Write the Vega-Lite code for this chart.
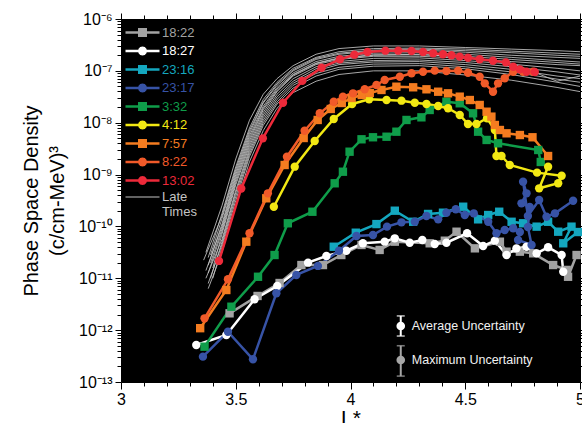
{
  "$schema": "https://vega.github.io/schema/vega-lite/v6.json",
  "width": 459,
  "height": 363,
  "autosize": {"type": "none"},
  "padding": {"left": 121, "top": 19, "right": 2, "bottom": 41},
  "background": "white",
  "config": {
    "view": {"fill": "black", "stroke": null},
    "font": "Liberation Sans",
    "axis": {
      "grid": false,
      "domainColor": "black",
      "tickColor": "black",
      "labelColor": "black",
      "titleColor": "black",
      "labelFont": "Liberation Sans",
      "titleFont": "Liberation Sans",
      "titleFontWeight": "normal"
    }
  },
  "datasets": {
    "series": [
      {"s": "18:22", "x": 3.473, "y": 2.11e-12},
      {"s": "18:22", "x": 3.595, "y": 4.56e-12},
      {"s": "18:22", "x": 3.691, "y": 8.11e-12},
      {"s": "18:22", "x": 3.786, "y": 1.8e-11},
      {"s": "18:22", "x": 3.88, "y": 1.8e-11},
      {"s": "18:22", "x": 3.96, "y": 2.81e-11},
      {"s": "18:22", "x": 4.048, "y": 4.39e-11},
      {"s": "18:22", "x": 4.127, "y": 3.52e-11},
      {"s": "18:22", "x": 4.193, "y": 5.08e-11},
      {"s": "18:22", "x": 4.345, "y": 4.73e-11},
      {"s": "18:22", "x": 4.411, "y": 5.31e-11},
      {"s": "18:22", "x": 4.462, "y": 7.91e-11},
      {"s": "18:22", "x": 4.542, "y": 3.78e-11},
      {"s": "18:22", "x": 4.651, "y": 5.08e-11},
      {"s": "18:22", "x": 4.68, "y": 3.26e-11},
      {"s": "18:22", "x": 4.738, "y": 3.26e-11},
      {"s": "18:22", "x": 4.796, "y": 3.03e-11},
      {"s": "18:22", "x": 4.883, "y": 1.8e-11},
      {"s": "18:22", "x": 4.942, "y": 1.45e-11},
      {"s": "18:22", "x": 4.948, "y": 1.07e-11},
      {"s": "18:22", "x": 4.985, "y": 2.81e-11},

      {"s": "18:27", "x": 3.328, "y": 5.18e-13},
      {"s": "18:27", "x": 3.459, "y": 8.07e-13},
      {"s": "18:27", "x": 3.582, "y": 3.94e-12},
      {"s": "18:27", "x": 3.681, "y": 7.1e-12},
      {"s": "18:27", "x": 3.815, "y": 2.0e-11},
      {"s": "18:27", "x": 3.895, "y": 2.69e-11},
      {"s": "18:27", "x": 3.982, "y": 3.4e-11},
      {"s": "18:27", "x": 4.054, "y": 4.73e-11},
      {"s": "18:27", "x": 4.149, "y": 5.08e-11},
      {"s": "18:27", "x": 4.193, "y": 5.9e-11},
      {"s": "18:27", "x": 4.258, "y": 4.85e-11},
      {"s": "18:27", "x": 4.313, "y": 5.47e-11},
      {"s": "18:27", "x": 4.367, "y": 4.58e-11},
      {"s": "18:27", "x": 4.418, "y": 4.85e-11},
      {"s": "18:27", "x": 4.508, "y": 7.38e-11},
      {"s": "18:27", "x": 4.578, "y": 4.2e-11},
      {"s": "18:27", "x": 4.629, "y": 5.31e-11},
      {"s": "18:27", "x": 4.68, "y": 2.81e-11},
      {"s": "18:27", "x": 4.723, "y": 3.78e-11},
      {"s": "18:27", "x": 4.767, "y": 4.06e-11},
      {"s": "18:27", "x": 4.811, "y": 3.03e-11},
      {"s": "18:27", "x": 4.861, "y": 3.96e-11},
      {"s": "18:27", "x": 4.92, "y": 2.81e-11},
      {"s": "18:27", "x": 4.927, "y": 1.34e-11},

      {"s": "23:16", "x": 3.927, "y": 4.06e-11},
      {"s": "23:16", "x": 4.023, "y": 7.57e-11},
      {"s": "23:16", "x": 4.113, "y": 1.11e-10},
      {"s": "23:16", "x": 4.193, "y": 2.01e-10},
      {"s": "23:16", "x": 4.273, "y": 1.23e-10},
      {"s": "23:16", "x": 4.338, "y": 1.74e-10},
      {"s": "23:16", "x": 4.403, "y": 1.84e-10},
      {"s": "23:16", "x": 4.491, "y": 2.4e-10},
      {"s": "23:16", "x": 4.556, "y": 1.37e-10},
      {"s": "23:16", "x": 4.6, "y": 1.66e-10},
      {"s": "23:16", "x": 4.648, "y": 1.92e-10},
      {"s": "23:16", "x": 4.702, "y": 1.23e-10},
      {"s": "23:16", "x": 4.752, "y": 1.15e-10},
      {"s": "23:16", "x": 4.811, "y": 9.9e-11},
      {"s": "23:16", "x": 4.861, "y": 1.23e-10},
      {"s": "23:16", "x": 4.905, "y": 7.91e-11},
      {"s": "23:16", "x": 4.963, "y": 9.9e-11},
      {"s": "23:16", "x": 4.927, "y": 4.73e-11},
      {"s": "23:16", "x": 4.991, "y": 7.8e-11},

      {"s": "23:17", "x": 3.357, "y": 3.08e-13},
      {"s": "23:17", "x": 3.466, "y": 9.33e-13},
      {"s": "23:17", "x": 3.575, "y": 2.74e-13},
      {"s": "23:17", "x": 3.677, "y": 5.14e-12},
      {"s": "23:17", "x": 3.764, "y": 1.16e-11},
      {"s": "23:17", "x": 3.858, "y": 1.73e-11},
      {"s": "23:17", "x": 3.95, "y": 3.4e-11},
      {"s": "23:17", "x": 4.026, "y": 6.55e-11},
      {"s": "23:17", "x": 4.098, "y": 6.84e-11},
      {"s": "23:17", "x": 4.159, "y": 9.9e-11},
      {"s": "23:17", "x": 4.222, "y": 1.2e-10},
      {"s": "23:17", "x": 4.28, "y": 1.23e-10},
      {"s": "23:17", "x": 4.331, "y": 1.59e-10},
      {"s": "23:17", "x": 4.382, "y": 1.37e-10},
      {"s": "23:17", "x": 4.418, "y": 1.84e-10},
      {"s": "23:17", "x": 4.459, "y": 2.14e-10},
      {"s": "23:17", "x": 4.498, "y": 1.66e-10},
      {"s": "23:17", "x": 4.537, "y": 1.79e-10},
      {"s": "23:17", "x": 4.6, "y": 1.23e-10},
      {"s": "23:17", "x": 4.636, "y": 7.38e-11},
      {"s": "23:17", "x": 4.672, "y": 8.53e-11},
      {"s": "23:17", "x": 4.709, "y": 9.2e-11},
      {"s": "23:17", "x": 4.738, "y": 7.8e-11},
      {"s": "23:17", "x": 4.73, "y": 5.47e-11},
      {"s": "23:17", "x": 4.789, "y": 4.39e-11},
      {"s": "23:17", "x": 4.773, "y": 9.75e-11},
      {"s": "23:17", "x": 4.781, "y": 2.37e-10},
      {"s": "23:17", "x": 4.745, "y": 2.79e-10},
      {"s": "23:17", "x": 4.767, "y": 4.35e-10},
      {"s": "23:17", "x": 4.752, "y": 7.29e-10},
      {"s": "23:17", "x": 4.773, "y": 1.59e-10},
      {"s": "23:17", "x": 4.822, "y": 3.24e-10},
      {"s": "23:17", "x": 4.854, "y": 1.54e-10},
      {"s": "23:17", "x": 4.891, "y": 1.79e-10},
      {"s": "23:17", "x": 4.97, "y": 3.13e-10},

      {"s": "3:32", "x": 3.364, "y": 4.8e-13},
      {"s": "3:32", "x": 3.481, "y": 2.83e-12},
      {"s": "3:32", "x": 3.597, "y": 1.07e-11},
      {"s": "3:32", "x": 3.669, "y": 2.81e-11},
      {"s": "3:32", "x": 3.727, "y": 1.15e-10},
      {"s": "3:32", "x": 3.834, "y": 1.92e-10},
      {"s": "3:32", "x": 3.931, "y": 6.79e-10},
      {"s": "3:32", "x": 3.967, "y": 1.135e-9},
      {"s": "3:32", "x": 3.996, "y": 2.76e-9},
      {"s": "3:32", "x": 4.048, "y": 4.79e-9},
      {"s": "3:32", "x": 4.098, "y": 5.24e-9},
      {"s": "3:32", "x": 4.157, "y": 5.37e-9},
      {"s": "3:32", "x": 4.2, "y": 6.71e-9},
      {"s": "3:32", "x": 4.244, "y": 1.13e-8},
      {"s": "3:32", "x": 4.309, "y": 1.27e-8},
      {"s": "3:32", "x": 4.345, "y": 1.76e-8},
      {"s": "3:32", "x": 4.418, "y": 2.54e-8},
      {"s": "3:32", "x": 4.476, "y": 2.37e-8},
      {"s": "3:32", "x": 4.534, "y": 1.52e-8},
      {"s": "3:32", "x": 4.556, "y": 6.71e-9},
      {"s": "3:32", "x": 4.593, "y": 4.65e-9},
      {"s": "3:32", "x": 4.643, "y": 4.01e-9},
      {"s": "3:32", "x": 4.818, "y": 2.98e-9},
      {"s": "3:32", "x": 4.829, "y": 1.75e-9},

      {"s": "4:12", "x": 3.666, "y": 2.4e-10},
      {"s": "4:12", "x": 3.757, "y": 1.42e-9},
      {"s": "4:12", "x": 3.844, "y": 4.44e-9},
      {"s": "4:12", "x": 3.927, "y": 1.18e-8},
      {"s": "4:12", "x": 4.007, "y": 2.3e-8},
      {"s": "4:12", "x": 4.081, "y": 2.83e-8},
      {"s": "4:12", "x": 4.157, "y": 2.74e-8},
      {"s": "4:12", "x": 4.222, "y": 2.66e-8},
      {"s": "4:12", "x": 4.28, "y": 2.43e-8},
      {"s": "4:12", "x": 4.331, "y": 2.3e-8},
      {"s": "4:12", "x": 4.382, "y": 2.1e-8},
      {"s": "4:12", "x": 4.425, "y": 1.9e-8},
      {"s": "4:12", "x": 4.476, "y": 1.41e-8},
      {"s": "4:12", "x": 4.512, "y": 9.45e-9},
      {"s": "4:12", "x": 4.549, "y": 9.45e-9},
      {"s": "4:12", "x": 4.595, "y": 1.22e-8},
      {"s": "4:12", "x": 4.629, "y": 7.24e-9},
      {"s": "4:12", "x": 4.636, "y": 2.28e-9},
      {"s": "4:12", "x": 4.658, "y": 2.28e-9},
      {"s": "4:12", "x": 4.694, "y": 1.53e-9},
      {"s": "4:12", "x": 4.813, "y": 1.09e-9},
      {"s": "4:12", "x": 4.92, "y": 9.5e-10},
      {"s": "4:12", "x": 4.905, "y": 6.79e-10},
      {"s": "4:12", "x": 4.822, "y": 5.43e-10},
      {"s": "4:12", "x": 4.861, "y": 1.42e-9},

      {"s": "7:57", "x": 3.345, "y": 1.09e-12},
      {"s": "7:57", "x": 3.459, "y": 5.94e-12},
      {"s": "7:57", "x": 3.546, "y": 5.08e-11},
      {"s": "7:57", "x": 3.633, "y": 3.49e-10},
      {"s": "7:57", "x": 3.713, "y": 1.53e-9},
      {"s": "7:57", "x": 3.796, "y": 5.07e-9},
      {"s": "7:57", "x": 3.857, "y": 1.13e-8},
      {"s": "7:57", "x": 3.914, "y": 1.84e-8},
      {"s": "7:57", "x": 3.962, "y": 2.4e-8},
      {"s": "7:57", "x": 4.005, "y": 3.0e-8},
      {"s": "7:57", "x": 4.049, "y": 3.42e-8},
      {"s": "7:57", "x": 4.084, "y": 3.74e-8},
      {"s": "7:57", "x": 4.135, "y": 4.28e-8},
      {"s": "7:57", "x": 4.2, "y": 4.95e-8},
      {"s": "7:57", "x": 4.273, "y": 4.82e-8},
      {"s": "7:57", "x": 4.331, "y": 4.41e-8},
      {"s": "7:57", "x": 4.382, "y": 3.96e-8},
      {"s": "7:57", "x": 4.425, "y": 3.69e-8},
      {"s": "7:57", "x": 4.476, "y": 3.18e-8},
      {"s": "7:57", "x": 4.52, "y": 2.74e-8},
      {"s": "7:57", "x": 4.563, "y": 2.2e-8},
      {"s": "7:57", "x": 4.593, "y": 1.63e-8},
      {"s": "7:57", "x": 4.614, "y": 1.31e-8},
      {"s": "7:57", "x": 4.629, "y": 9.04e-9},
      {"s": "7:57", "x": 4.651, "y": 7.24e-9},
      {"s": "7:57", "x": 4.68, "y": 6.25e-9},
      {"s": "7:57", "x": 4.738, "y": 5.79e-9},
      {"s": "7:57", "x": 4.793, "y": 5.24e-9},
      {"s": "7:57", "x": 4.861, "y": 2.28e-9},

      {"s": "8:22", "x": 3.364, "y": 1.69e-12},
      {"s": "8:22", "x": 3.466, "y": 9.57e-12},
      {"s": "8:22", "x": 3.56, "y": 7.38e-11},
      {"s": "8:22", "x": 3.64, "y": 4.35e-10},
      {"s": "8:22", "x": 3.723, "y": 2.21e-9},
      {"s": "8:22", "x": 3.8, "y": 7.01e-9},
      {"s": "8:22", "x": 3.866, "y": 1.52e-8},
      {"s": "8:22", "x": 3.927, "y": 2.54e-8},
      {"s": "8:22", "x": 3.967, "y": 3.18e-8},
      {"s": "8:22", "x": 4.011, "y": 3.69e-8},
      {"s": "8:22", "x": 4.062, "y": 4.41e-8},
      {"s": "8:22", "x": 4.113, "y": 5.33e-8},
      {"s": "8:22", "x": 4.149, "y": 6.67e-8},
      {"s": "8:22", "x": 4.215, "y": 7.71e-8},
      {"s": "8:22", "x": 4.266, "y": 8.97e-8},
      {"s": "8:22", "x": 4.316, "y": 9.63e-8},
      {"s": "8:22", "x": 4.367, "y": 1.01e-7},
      {"s": "8:22", "x": 4.418, "y": 9.93e-8},
      {"s": "8:22", "x": 4.469, "y": 1.01e-7},
      {"s": "8:22", "x": 4.512, "y": 9.21e-8},
      {"s": "8:22", "x": 4.563, "y": 7.71e-8},
      {"s": "8:22", "x": 4.585, "y": 5.75e-8},
      {"s": "8:22", "x": 4.621, "y": 3.96e-8},
      {"s": "8:22", "x": 4.643, "y": 5.75e-8},
      {"s": "8:22", "x": 4.672, "y": 7.19e-8},
      {"s": "8:22", "x": 4.709, "y": 9.63e-8},
      {"s": "8:22", "x": 4.752, "y": 9.63e-8},
      {"s": "8:22", "x": 4.796, "y": 9.63e-8},

      {"s": "13:02", "x": 3.427, "y": 2.16e-11},
      {"s": "13:02", "x": 3.524, "y": 5.4e-10},
      {"s": "13:02", "x": 3.618, "y": 5.0e-9},
      {"s": "13:02", "x": 3.706, "y": 2.43e-8},
      {"s": "13:02", "x": 3.79, "y": 6.4e-8},
      {"s": "13:02", "x": 3.874, "y": 1.15e-7},
      {"s": "13:02", "x": 3.954, "y": 1.67e-7},
      {"s": "13:02", "x": 4.017, "y": 2.05e-7},
      {"s": "13:02", "x": 4.074, "y": 2.31e-7},
      {"s": "13:02", "x": 4.152, "y": 2.45e-7},
      {"s": "13:02", "x": 4.208, "y": 2.45e-7},
      {"s": "13:02", "x": 4.266, "y": 2.42e-7},
      {"s": "13:02", "x": 4.316, "y": 2.31e-7},
      {"s": "13:02", "x": 4.36, "y": 2.18e-7},
      {"s": "13:02", "x": 4.403, "y": 2.09e-7},
      {"s": "13:02", "x": 4.44, "y": 2.0e-7},
      {"s": "13:02", "x": 4.476, "y": 1.88e-7},
      {"s": "13:02", "x": 4.512, "y": 1.79e-7},
      {"s": "13:02", "x": 4.563, "y": 1.67e-7},
      {"s": "13:02", "x": 4.621, "y": 1.57e-7},
      {"s": "13:02", "x": 4.677, "y": 1.46e-7},
      {"s": "13:02", "x": 4.709, "y": 1.2e-7},
      {"s": "13:02", "x": 4.738, "y": 1.07e-7},
      {"s": "13:02", "x": 4.767, "y": 9.6e-8},
      {"s": "13:02", "x": 4.803, "y": 9.5e-8}
    ],
    "late": [
      {"s": "Late Times", "c": "L1", "x": 3.37, "y": 3.16e-11},
      {"s": "Late Times", "c": "L1", "x": 3.44, "y": 2.51e-10},
      {"s": "Late Times", "c": "L1", "x": 3.5, "y": 2.0e-9},
      {"s": "Late Times", "c": "L1", "x": 3.56, "y": 1.12e-8},
      {"s": "Late Times", "c": "L1", "x": 3.62, "y": 3.55e-8},
      {"s": "Late Times", "c": "L1", "x": 3.68, "y": 7.08e-8},
      {"s": "Late Times", "c": "L1", "x": 3.75, "y": 1.26e-7},
      {"s": "Late Times", "c": "L1", "x": 3.85, "y": 2.09e-7},
      {"s": "Late Times", "c": "L1", "x": 3.95, "y": 2.69e-7},
      {"s": "Late Times", "c": "L1", "x": 4.1, "y": 3.02e-7},
      {"s": "Late Times", "c": "L1", "x": 4.3, "y": 3.02e-7},
      {"s": "Late Times", "c": "L1", "x": 4.5, "y": 2.82e-7},
      {"s": "Late Times", "c": "L1", "x": 4.7, "y": 2.63e-7},
      {"s": "Late Times", "c": "L1", "x": 4.9, "y": 2.45e-7},
      {"s": "Late Times", "c": "L1", "x": 5.0, "y": 2.34e-7},

      {"s": "Late Times", "c": "L2", "x": 3.38, "y": 2.51e-11},
      {"s": "Late Times", "c": "L2", "x": 3.44, "y": 1.78e-10},
      {"s": "Late Times", "c": "L2", "x": 3.5, "y": 1.41e-9},
      {"s": "Late Times", "c": "L2", "x": 3.56, "y": 7.94e-9},
      {"s": "Late Times", "c": "L2", "x": 3.62, "y": 2.82e-8},
      {"s": "Late Times", "c": "L2", "x": 3.68, "y": 6.03e-8},
      {"s": "Late Times", "c": "L2", "x": 3.75, "y": 1.12e-7},
      {"s": "Late Times", "c": "L2", "x": 3.85, "y": 1.82e-7},
      {"s": "Late Times", "c": "L2", "x": 3.95, "y": 2.34e-7},
      {"s": "Late Times", "c": "L2", "x": 4.1, "y": 2.69e-7},
      {"s": "Late Times", "c": "L2", "x": 4.3, "y": 2.75e-7},
      {"s": "Late Times", "c": "L2", "x": 4.5, "y": 2.63e-7},
      {"s": "Late Times", "c": "L2", "x": 4.7, "y": 2.4e-7},
      {"s": "Late Times", "c": "L2", "x": 4.9, "y": 2.19e-7},
      {"s": "Late Times", "c": "L2", "x": 5.0, "y": 2.09e-7},

      {"s": "Late Times", "c": "L3", "x": 3.39, "y": 2.82e-11},
      {"s": "Late Times", "c": "L3", "x": 3.44, "y": 1.41e-10},
      {"s": "Late Times", "c": "L3", "x": 3.5, "y": 1.12e-9},
      {"s": "Late Times", "c": "L3", "x": 3.56, "y": 6.31e-9},
      {"s": "Late Times", "c": "L3", "x": 3.62, "y": 2.4e-8},
      {"s": "Late Times", "c": "L3", "x": 3.68, "y": 5.25e-8},
      {"s": "Late Times", "c": "L3", "x": 3.75, "y": 1.0e-7},
      {"s": "Late Times", "c": "L3", "x": 3.85, "y": 1.66e-7},
      {"s": "Late Times", "c": "L3", "x": 3.95, "y": 2.09e-7},
      {"s": "Late Times", "c": "L3", "x": 4.1, "y": 2.4e-7},
      {"s": "Late Times", "c": "L3", "x": 4.3, "y": 2.51e-7},
      {"s": "Late Times", "c": "L3", "x": 4.5, "y": 2.29e-7},
      {"s": "Late Times", "c": "L3", "x": 4.7, "y": 2.0e-7},
      {"s": "Late Times", "c": "L3", "x": 4.9, "y": 1.82e-7},
      {"s": "Late Times", "c": "L3", "x": 5.0, "y": 1.74e-7},

      {"s": "Late Times", "c": "L4", "x": 3.38, "y": 1.78e-11},
      {"s": "Late Times", "c": "L4", "x": 3.44, "y": 1.12e-10},
      {"s": "Late Times", "c": "L4", "x": 3.5, "y": 1.0e-9},
      {"s": "Late Times", "c": "L4", "x": 3.56, "y": 5.62e-9},
      {"s": "Late Times", "c": "L4", "x": 3.62, "y": 2.09e-8},
      {"s": "Late Times", "c": "L4", "x": 3.68, "y": 4.79e-8},
      {"s": "Late Times", "c": "L4", "x": 3.75, "y": 9.12e-8},
      {"s": "Late Times", "c": "L4", "x": 3.85, "y": 1.51e-7},
      {"s": "Late Times", "c": "L4", "x": 3.95, "y": 1.91e-7},
      {"s": "Late Times", "c": "L4", "x": 4.1, "y": 2.19e-7},
      {"s": "Late Times", "c": "L4", "x": 4.3, "y": 2.24e-7},
      {"s": "Late Times", "c": "L4", "x": 4.5, "y": 2.09e-7},
      {"s": "Late Times", "c": "L4", "x": 4.7, "y": 1.82e-7},
      {"s": "Late Times", "c": "L4", "x": 4.9, "y": 1.58e-7},
      {"s": "Late Times", "c": "L4", "x": 5.0, "y": 1.48e-7},

      {"s": "Late Times", "c": "L5", "x": 3.37, "y": 1.41e-11},
      {"s": "Late Times", "c": "L5", "x": 3.44, "y": 1.0e-10},
      {"s": "Late Times", "c": "L5", "x": 3.5, "y": 8.91e-10},
      {"s": "Late Times", "c": "L5", "x": 3.56, "y": 5.01e-9},
      {"s": "Late Times", "c": "L5", "x": 3.62, "y": 1.91e-8},
      {"s": "Late Times", "c": "L5", "x": 3.68, "y": 4.47e-8},
      {"s": "Late Times", "c": "L5", "x": 3.75, "y": 8.51e-8},
      {"s": "Late Times", "c": "L5", "x": 3.85, "y": 1.41e-7},
      {"s": "Late Times", "c": "L5", "x": 3.95, "y": 1.78e-7},
      {"s": "Late Times", "c": "L5", "x": 4.1, "y": 2.04e-7},
      {"s": "Late Times", "c": "L5", "x": 4.3, "y": 2.04e-7},
      {"s": "Late Times", "c": "L5", "x": 4.5, "y": 1.91e-7},
      {"s": "Late Times", "c": "L5", "x": 4.7, "y": 1.66e-7},
      {"s": "Late Times", "c": "L5", "x": 4.9, "y": 1.45e-7},
      {"s": "Late Times", "c": "L5", "x": 5.0, "y": 1.35e-7},

      {"s": "Late Times", "c": "L6", "x": 3.38, "y": 1.26e-11},
      {"s": "Late Times", "c": "L6", "x": 3.44, "y": 7.94e-11},
      {"s": "Late Times", "c": "L6", "x": 3.5, "y": 7.08e-10},
      {"s": "Late Times", "c": "L6", "x": 3.56, "y": 3.98e-9},
      {"s": "Late Times", "c": "L6", "x": 3.62, "y": 1.58e-8},
      {"s": "Late Times", "c": "L6", "x": 3.68, "y": 3.98e-8},
      {"s": "Late Times", "c": "L6", "x": 3.75, "y": 7.94e-8},
      {"s": "Late Times", "c": "L6", "x": 3.85, "y": 1.32e-7},
      {"s": "Late Times", "c": "L6", "x": 3.95, "y": 1.66e-7},
      {"s": "Late Times", "c": "L6", "x": 4.1, "y": 1.91e-7},
      {"s": "Late Times", "c": "L6", "x": 4.3, "y": 1.91e-7},
      {"s": "Late Times", "c": "L6", "x": 4.5, "y": 1.74e-7},
      {"s": "Late Times", "c": "L6", "x": 4.7, "y": 1.51e-7},
      {"s": "Late Times", "c": "L6", "x": 4.9, "y": 1.32e-7},
      {"s": "Late Times", "c": "L6", "x": 5.0, "y": 1.26e-7},

      {"s": "Late Times", "c": "L7", "x": 3.4, "y": 1.58e-11},
      {"s": "Late Times", "c": "L7", "x": 3.44, "y": 7.08e-11},
      {"s": "Late Times", "c": "L7", "x": 3.5, "y": 6.31e-10},
      {"s": "Late Times", "c": "L7", "x": 3.56, "y": 3.55e-9},
      {"s": "Late Times", "c": "L7", "x": 3.62, "y": 1.41e-8},
      {"s": "Late Times", "c": "L7", "x": 3.68, "y": 3.55e-8},
      {"s": "Late Times", "c": "L7", "x": 3.75, "y": 7.08e-8},
      {"s": "Late Times", "c": "L7", "x": 3.85, "y": 1.2e-7},
      {"s": "Late Times", "c": "L7", "x": 3.95, "y": 1.51e-7},
      {"s": "Late Times", "c": "L7", "x": 4.1, "y": 1.74e-7},
      {"s": "Late Times", "c": "L7", "x": 4.3, "y": 1.78e-7},
      {"s": "Late Times", "c": "L7", "x": 4.5, "y": 1.58e-7},
      {"s": "Late Times", "c": "L7", "x": 4.7, "y": 1.35e-7},
      {"s": "Late Times", "c": "L7", "x": 4.9, "y": 1.12e-7},
      {"s": "Late Times", "c": "L7", "x": 5.0, "y": 1.0e-7},

      {"s": "Late Times", "c": "L8", "x": 3.37, "y": 1.0e-11},
      {"s": "Late Times", "c": "L8", "x": 3.44, "y": 5.62e-11},
      {"s": "Late Times", "c": "L8", "x": 3.5, "y": 5.01e-10},
      {"s": "Late Times", "c": "L8", "x": 3.56, "y": 3.16e-9},
      {"s": "Late Times", "c": "L8", "x": 3.62, "y": 1.26e-8},
      {"s": "Late Times", "c": "L8", "x": 3.68, "y": 3.16e-8},
      {"s": "Late Times", "c": "L8", "x": 3.75, "y": 6.31e-8},
      {"s": "Late Times", "c": "L8", "x": 3.85, "y": 1.1e-7},
      {"s": "Late Times", "c": "L8", "x": 3.95, "y": 1.41e-7},
      {"s": "Late Times", "c": "L8", "x": 4.1, "y": 1.58e-7},
      {"s": "Late Times", "c": "L8", "x": 4.3, "y": 1.62e-7},
      {"s": "Late Times", "c": "L8", "x": 4.5, "y": 1.45e-7},
      {"s": "Late Times", "c": "L8", "x": 4.7, "y": 1.2e-7},
      {"s": "Late Times", "c": "L8", "x": 4.9, "y": 9.55e-8},
      {"s": "Late Times", "c": "L8", "x": 5.0, "y": 8.32e-8},

      {"s": "Late Times", "c": "L9", "x": 3.39, "y": 1.0e-11},
      {"s": "Late Times", "c": "L9", "x": 3.44, "y": 5.01e-11},
      {"s": "Late Times", "c": "L9", "x": 3.5, "y": 4.47e-10},
      {"s": "Late Times", "c": "L9", "x": 3.56, "y": 2.82e-9},
      {"s": "Late Times", "c": "L9", "x": 3.62, "y": 1.12e-8},
      {"s": "Late Times", "c": "L9", "x": 3.68, "y": 2.82e-8},
      {"s": "Late Times", "c": "L9", "x": 3.75, "y": 5.75e-8},
      {"s": "Late Times", "c": "L9", "x": 3.85, "y": 1.0e-7},
      {"s": "Late Times", "c": "L9", "x": 3.95, "y": 1.32e-7},
      {"s": "Late Times", "c": "L9", "x": 4.1, "y": 1.48e-7},
      {"s": "Late Times", "c": "L9", "x": 4.3, "y": 1.51e-7},
      {"s": "Late Times", "c": "L9", "x": 4.5, "y": 1.32e-7},
      {"s": "Late Times", "c": "L9", "x": 4.7, "y": 1.07e-7},
      {"s": "Late Times", "c": "L9", "x": 4.9, "y": 7.94e-8},
      {"s": "Late Times", "c": "L9", "x": 5.0, "y": 7.08e-8},

      {"s": "Late Times", "c": "L10", "x": 3.38, "y": 7.94e-12},
      {"s": "Late Times", "c": "L10", "x": 3.44, "y": 4.47e-11},
      {"s": "Late Times", "c": "L10", "x": 3.5, "y": 3.8e-10},
      {"s": "Late Times", "c": "L10", "x": 3.56, "y": 2.51e-9},
      {"s": "Late Times", "c": "L10", "x": 3.62, "y": 1.0e-8},
      {"s": "Late Times", "c": "L10", "x": 3.68, "y": 2.51e-8},
      {"s": "Late Times", "c": "L10", "x": 3.75, "y": 5.25e-8},
      {"s": "Late Times", "c": "L10", "x": 3.85, "y": 8.91e-8},
      {"s": "Late Times", "c": "L10", "x": 3.95, "y": 1.17e-7},
      {"s": "Late Times", "c": "L10", "x": 4.1, "y": 1.35e-7},
      {"s": "Late Times", "c": "L10", "x": 4.3, "y": 1.38e-7},
      {"s": "Late Times", "c": "L10", "x": 4.5, "y": 1.2e-7},
      {"s": "Late Times", "c": "L10", "x": 4.7, "y": 9.55e-8},
      {"s": "Late Times", "c": "L10", "x": 4.9, "y": 6.92e-8},
      {"s": "Late Times", "c": "L10", "x": 5.0, "y": 6.03e-8},

      {"s": "Late Times", "c": "L11", "x": 3.4, "y": 1.0e-11},
      {"s": "Late Times", "c": "L11", "x": 3.44, "y": 3.98e-11},
      {"s": "Late Times", "c": "L11", "x": 3.5, "y": 3.16e-10},
      {"s": "Late Times", "c": "L11", "x": 3.56, "y": 2.24e-9},
      {"s": "Late Times", "c": "L11", "x": 3.62, "y": 8.91e-9},
      {"s": "Late Times", "c": "L11", "x": 3.68, "y": 2.29e-8},
      {"s": "Late Times", "c": "L11", "x": 3.75, "y": 4.68e-8},
      {"s": "Late Times", "c": "L11", "x": 3.85, "y": 7.94e-8},
      {"s": "Late Times", "c": "L11", "x": 3.95, "y": 1.07e-7},
      {"s": "Late Times", "c": "L11", "x": 4.1, "y": 1.23e-7},
      {"s": "Late Times", "c": "L11", "x": 4.3, "y": 1.26e-7},
      {"s": "Late Times", "c": "L11", "x": 4.5, "y": 1.1e-7},
      {"s": "Late Times", "c": "L11", "x": 4.7, "y": 8.51e-8},
      {"s": "Late Times", "c": "L11", "x": 4.9, "y": 6.03e-8},
      {"s": "Late Times", "c": "L11", "x": 5.0, "y": 5.01e-8},

      {"s": "Late Times", "c": "L12", "x": 3.38, "y": 6.31e-12},
      {"s": "Late Times", "c": "L12", "x": 3.44, "y": 3.16e-11},
      {"s": "Late Times", "c": "L12", "x": 3.5, "y": 2.51e-10},
      {"s": "Late Times", "c": "L12", "x": 3.56, "y": 1.78e-9},
      {"s": "Late Times", "c": "L12", "x": 3.62, "y": 7.08e-9},
      {"s": "Late Times", "c": "L12", "x": 3.68, "y": 1.91e-8},
      {"s": "Late Times", "c": "L12", "x": 3.75, "y": 3.8e-8},
      {"s": "Late Times", "c": "L12", "x": 3.85, "y": 6.31e-8},
      {"s": "Late Times", "c": "L12", "x": 3.95, "y": 8.51e-8},
      {"s": "Late Times", "c": "L12", "x": 4.1, "y": 1.0e-7},
      {"s": "Late Times", "c": "L12", "x": 4.3, "y": 1.0e-7},
      {"s": "Late Times", "c": "L12", "x": 4.5, "y": 8.32e-8},
      {"s": "Late Times", "c": "L12", "x": 4.7, "y": 6.61e-8},
      {"s": "Late Times", "c": "L12", "x": 4.9, "y": 4.79e-8},
      {"s": "Late Times", "c": "L12", "x": 5.0, "y": 3.98e-8},

      {"s": "Late Times", "c": "L13", "x": 3.36, "y": 2.24e-11},
      {"s": "Late Times", "c": "L13", "x": 3.44, "y": 1.58e-10},
      {"s": "Late Times", "c": "L13", "x": 3.5, "y": 1.26e-9},
      {"s": "Late Times", "c": "L13", "x": 3.56, "y": 7.08e-9},
      {"s": "Late Times", "c": "L13", "x": 3.62, "y": 2.51e-8},
      {"s": "Late Times", "c": "L13", "x": 3.68, "y": 5.62e-8},
      {"s": "Late Times", "c": "L13", "x": 3.75, "y": 1.05e-7},
      {"s": "Late Times", "c": "L13", "x": 3.85, "y": 1.74e-7},
      {"s": "Late Times", "c": "L13", "x": 3.95, "y": 2.19e-7},
      {"s": "Late Times", "c": "L13", "x": 4.1, "y": 2.51e-7},
      {"s": "Late Times", "c": "L13", "x": 4.3, "y": 2.63e-7},
      {"s": "Late Times", "c": "L13", "x": 4.5, "y": 2.45e-7},
      {"s": "Late Times", "c": "L13", "x": 4.7, "y": 2.24e-7},
      {"s": "Late Times", "c": "L13", "x": 4.9, "y": 2.0e-7},
      {"s": "Late Times", "c": "L13", "x": 5.0, "y": 1.91e-7},

      {"s": "Late Times", "c": "L14", "x": 3.39, "y": 2.0e-11},
      {"s": "Late Times", "c": "L14", "x": 3.44, "y": 8.91e-11},
      {"s": "Late Times", "c": "L14", "x": 3.5, "y": 7.94e-10},
      {"s": "Late Times", "c": "L14", "x": 3.56, "y": 4.47e-9},
      {"s": "Late Times", "c": "L14", "x": 3.62, "y": 1.78e-8},
      {"s": "Late Times", "c": "L14", "x": 3.68, "y": 4.17e-8},
      {"s": "Late Times", "c": "L14", "x": 3.75, "y": 8.32e-8},
      {"s": "Late Times", "c": "L14", "x": 3.85, "y": 1.38e-7},
      {"s": "Late Times", "c": "L14", "x": 3.95, "y": 1.74e-7},
      {"s": "Late Times", "c": "L14", "x": 4.1, "y": 2.0e-7},
      {"s": "Late Times", "c": "L14", "x": 4.3, "y": 2.09e-7},
      {"s": "Late Times", "c": "L14", "x": 4.5, "y": 1.82e-7},
      {"s": "Late Times", "c": "L14", "x": 4.7, "y": 1.41e-7},
      {"s": "Late Times", "c": "L14", "x": 4.9, "y": 6.31e-8},
      {"s": "Late Times", "c": "L14", "x": 5.0, "y": 7.94e-8}
    ],
    "unc": [
      {"k": "Average Uncertainty", "x": 4.219, "y": 1.2e-12, "lo": 7.7e-13, "hi": 1.88e-12},
      {"k": "Maximum Uncertainty", "x": 4.219, "y": 2.66e-13, "lo": 1.3e-13, "hi": 5.0e-13}
    ]
  },
  "layer": [
    {
      "encoding": {
        "x": {
          "field": "x",
          "type": "quantitative",
          "scale": {"domain": [3, 5], "nice": false, "zero": false},
          "axis": {
            "orient": "bottom",
            "title": "L*",
            "titleFontSize": 21,
            "titlePadding": 0,
            "format": "~g",
            "values": [3, 3.1, 3.2, 3.3, 3.4, 3.5, 3.6, 3.7, 3.8, 3.9, 4, 4.1, 4.2, 4.3, 4.4, 4.5, 4.6, 4.7, 4.8, 4.9, 5],
            "labelExpr": "abs(datum.value * 2 - round(datum.value * 2)) < 0.001 ? datum.label : ''",
            "labelFontSize": 16,
            "labelPadding": 2,
            "labelFlush": false,
            "labelOverlap": false,
            "tickSize": {"condition": {"test": "abs(datum.value * 2 - round(datum.value * 2)) < 0.001", "value": 7}, "value": 4}
          }
        },
        "y": {
          "field": "y",
          "type": "quantitative",
          "scale": {"type": "log", "domain": [1e-13, 1e-6], "nice": false},
          "axis": {
            "orient": "left",
            "title": ["Phase Space Density", "(c/cm-MeV)³"],
            "titleFontSize": 20,
            "titleLineHeight": 26,
            "titlePadding": 10,
            "values": [1e-13, 2e-13, 3e-13, 4e-13, 5e-13, 6e-13, 7e-13, 8e-13, 9e-13, 1e-12, 2e-12, 3e-12, 4e-12, 5e-12, 6e-12, 7e-12, 8e-12, 9e-12, 1e-11, 2e-11, 3e-11, 4e-11, 5e-11, 6e-11, 7e-11, 8e-11, 9e-11, 1e-10, 2e-10, 3e-10, 4e-10, 5e-10, 6e-10, 7e-10, 8e-10, 9e-10, 1e-9, 2e-9, 3e-9, 4e-9, 5e-9, 6e-9, 7e-9, 8e-9, 9e-9, 1e-8, 2e-8, 3e-8, 4e-8, 5e-8, 6e-8, 7e-8, 8e-8, 9e-8, 1e-7, 2e-7, 3e-7, 4e-7, 5e-7, 6e-7, 7e-7, 8e-7, 9e-7, 1e-6],
            "labelExpr": "abs(log(datum.value) / LN10 - round(log(datum.value) / LN10)) < 0.01 ? '10⁻' + (-round(log(datum.value) / LN10) >= 10 ? '¹' : '') + ['⁰','¹','²','³','⁴','⁵','⁶','⁷','⁸','⁹'][(-round(log(datum.value) / LN10)) % 10] : ''",
            "labelFontSize": 16,
            "labelPadding": 3,
            "labelOverlap": false,
            "labelFlush": false,
            "tickSize": {"condition": {"test": "abs(log(datum.value) / LN10 - round(log(datum.value) / LN10)) < 0.01", "value": 6}, "value": 4}
          }
        },
        "color": {
          "field": "s",
          "type": "nominal",
          "scale": {
            "domain": ["18:22", "18:27", "23:16", "23:17", "3:32", "4:12", "7:57", "8:22", "13:02", "Late Times"],
            "range": ["#a3a3a3", "#ffffff", "#14a7bf", "#3753a6", "#0f9d4a", "#f2e813", "#f47c20", "#f15a29", "#ed2a3a", "#c4c4c4"]
          },
          "legend": {
            "title": null,
            "orient": "none",
            "legendX": 3,
            "legendY": 7,
            "direction": "vertical",
            "padding": 0,
            "rowPadding": 1.5,
            "symbolSize": 100,
            "symbolOffset": 0,
            "labelOffset": 25,
            "labelFont": "Liberation Sans",
            "labelFontSize": 13,
            "labelLimit": 200,
            "labelExpr": "datum.value === 'Late Times' ? ['Late', 'Times'] : datum.label",
            "encode": {
              "symbols": {
                "update": {
                  "shape": {"signal": "datum.value === 'Late Times' ? 'M-1,0H5.8' : (indexof(['18:22','23:16','3:32','7:57'], datum.value) >= 0 ? 'M-1,0H5.8M1.75,-0.65H3.05V0.65H1.75Z' : 'M-1,0H5.8M3.05,0L2.963,0.325L2.725,0.563L2.4,0.65L2.075,0.563L1.837,0.325L1.75,0L1.837,-0.325L2.075,-0.563L2.4,-0.65L2.725,-0.563L2.963,-0.325Z')"},
                  "fill": {"signal": "scale('color', datum.value)"},
                  "stroke": {"signal": "scale('color', datum.value)"},
                  "strokeWidth": {"signal": "datum.value === 'Late Times' ? 1 : 2.5"},
                  "opacity": {"value": 1}
                }
              },
              "labels": {
                "update": {
                  "fill": {"signal": "scale('color', datum.value)"}
                }
              }
            }
          }
        }
      },
      "layer": [
        {
          "data": {"name": "late"},
          "mark": {"type": "line", "strokeWidth": 1, "opacity": 0.85},
          "encoding": {"detail": {"field": "c", "type": "nominal"}, "order": {"value": null}}
        },
        {
          "data": {"name": "series"},
          "mark": {"type": "line", "strokeWidth": 2.5},
          "encoding": {"order": {"value": null}}
        },
        {
          "data": {"name": "series"},
          "mark": {"type": "point", "filled": true, "size": 70, "opacity": 1},
          "encoding": {
            "shape": {
              "field": "s",
              "type": "nominal",
              "scale": {
                "domain": ["18:22", "18:27", "23:16", "23:17", "3:32", "4:12", "7:57", "8:22", "13:02"],
                "range": ["square", "circle", "square", "circle", "square", "circle", "square", "circle", "circle"]
              },
              "legend": null
            }
          }
        }
      ]
    },
    {
      "data": {"name": "unc"},
      "encoding": {
        "x": {
          "field": "x",
          "type": "quantitative",
          "scale": {"domain": [3, 5], "nice": false, "zero": false},
          "axis": {
            "orient": "top",
            "title": null,
            "labels": false,
            "values": [3, 3.1, 3.2, 3.3, 3.4, 3.5, 3.6, 3.7, 3.8, 3.9, 4, 4.1, 4.2, 4.3, 4.4, 4.5, 4.6, 4.7, 4.8, 4.9, 5],
            "tickSize": {"condition": {"test": "abs(datum.value * 2 - round(datum.value * 2)) < 0.001", "value": 6}, "value": 4}
          }
        }
      },
      "layer": [
        {
          "mark": {"type": "rule", "strokeWidth": 2},
          "encoding": {
            "y": {
              "field": "lo",
              "type": "quantitative",
              "scale": {"type": "log", "domain": [1e-13, 1e-6], "nice": false},
              "axis": {
                "orient": "right",
                "title": null,
                "labels": false,
                "values": [1e-13, 2e-13, 3e-13, 4e-13, 5e-13, 6e-13, 7e-13, 8e-13, 9e-13, 1e-12, 2e-12, 3e-12, 4e-12, 5e-12, 6e-12, 7e-12, 8e-12, 9e-12, 1e-11, 2e-11, 3e-11, 4e-11, 5e-11, 6e-11, 7e-11, 8e-11, 9e-11, 1e-10, 2e-10, 3e-10, 4e-10, 5e-10, 6e-10, 7e-10, 8e-10, 9e-10, 1e-9, 2e-9, 3e-9, 4e-9, 5e-9, 6e-9, 7e-9, 8e-9, 9e-9, 1e-8, 2e-8, 3e-8, 4e-8, 5e-8, 6e-8, 7e-8, 8e-8, 9e-8, 1e-7, 2e-7, 3e-7, 4e-7, 5e-7, 6e-7, 7e-7, 8e-7, 9e-7, 1e-6],
                "tickSize": {"condition": {"test": "abs(log(datum.value) / LN10 - round(log(datum.value) / LN10)) < 0.01", "value": 6}, "value": 4}
              }
            },
            "y2": {"field": "hi"},
            "color": {"condition": {"test": "datum.k === 'Average Uncertainty'", "value": "#ffffff"}, "value": "#a6a6a6"}
          }
        },
        {
          "mark": {"type": "tick", "orient": "horizontal", "size": 8, "thickness": 1.6},
          "encoding": {
            "y": {"field": "lo", "type": "quantitative"},
            "color": {"condition": {"test": "datum.k === 'Average Uncertainty'", "value": "#ffffff"}, "value": "#a6a6a6"}
          }
        },
        {
          "mark": {"type": "tick", "orient": "horizontal", "size": 8, "thickness": 1.6},
          "encoding": {
            "y": {"field": "hi", "type": "quantitative"},
            "color": {"condition": {"test": "datum.k === 'Average Uncertainty'", "value": "#ffffff"}, "value": "#a6a6a6"}
          }
        },
        {
          "mark": {"type": "point", "filled": true, "shape": "circle", "size": 75, "opacity": 1},
          "encoding": {
            "y": {"field": "y", "type": "quantitative"},
            "color": {"condition": {"test": "datum.k === 'Average Uncertainty'", "value": "#ffffff"}, "value": "#a6a6a6"}
          }
        },
        {
          "mark": {"type": "text", "align": "left", "baseline": "middle", "dx": 11, "fontSize": 12.5, "font": "Liberation Sans", "color": "#f2f2f2"},
          "encoding": {
            "y": {"field": "y", "type": "quantitative"},
            "text": {"field": "k", "type": "nominal"}
          }
        }
      ]
    }
  ],
  "resolve": {"axis": {"x": "independent", "y": "independent"}}
}
